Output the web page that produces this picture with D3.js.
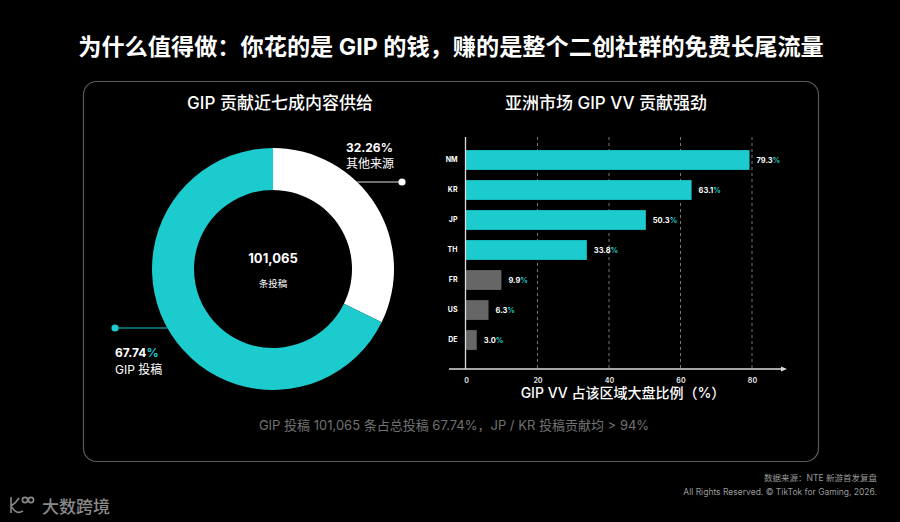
<!DOCTYPE html>
<html>
<head>
<meta charset="utf-8">
<script src="https://cdn.jsdelivr.net/npm/d3@7"></script>
<style>
  html, body { margin: 0; padding: 0; background: #000; }
  svg { display: block; font-family: "Inter", "Noto Sans CJK SC", sans-serif; }
</style>
</head>
<body>
<script>
// donut: GIP share of all posts
var shareLabels = ['其他来源', 'GIP 投稿'];
var shareValues = [32.26, 67.74];
var totalPosts = '101,065';

// bars: GIP VV share of each region
var regions = ['NM', 'KR', 'JP', 'TH', 'FR', 'US', 'DE'];
var vvShare = [79.3, 63.1, 50.3, 33.8, 9.9, 6.3, 3.0];
var asiaRegions = ['NM', 'KR', 'JP', 'TH'];
var xTicks = [0, 20, 40, 60, 80];

var W = 900, H = 522;
var teal = '#1ccbce';

var svg = d3.select('body').append('svg')
            .attr('width', W)
            .attr('height', H);

svg.append('text')
   .attr('x', 451).attr('y', 55)
   .attr('text-anchor', 'middle')
   .attr('fill', '#fff')
   .attr('font-size', 23.2)
   .attr('font-weight', 700)
   .text('为什么值得做：你花的是 GIP 的钱，赚的是整个二创社群的免费长尾流量');

// panel
svg.append('rect')
   .attr('x', 83.5).attr('y', 81.5)
   .attr('width', 735).attr('height', 380)
   .attr('rx', 13)
   .attr('fill', 'none')
   .attr('stroke', '#5a5a5a')
   .attr('stroke-width', 1.2);

svg.append('text')
   .attr('x', 280).attr('y', 109)
   .attr('text-anchor', 'middle')
   .attr('fill', '#fff')
   .attr('font-size', 17)
   .attr('font-weight', 500)
   .text('GIP 贡献近七成内容供给');

svg.append('text')
   .attr('x', 606).attr('y', 109)
   .attr('text-anchor', 'middle')
   .attr('fill', '#fff')
   .attr('font-size', 17)
   .attr('font-weight', 500)
   .text('亚洲市场 GIP VV 贡献强劲');

//---- donut
var cx = 273, cy = 269, R = 121, r = 79;
var pie = d3.pie().sort(null).value(function(d) { return d; });
var arc = d3.arc().innerRadius(r).outerRadius(R);
var donut = svg.append('g').attr('transform', 'translate(' + cx + ',' + cy + ')');

donut.selectAll('path')
     .data(pie(shareValues))
     .enter()
     .append('path')
     .attr('d', arc)
     .attr('fill', function(d, i) { return i === 0 ? '#fff' : teal; });

donut.append('text')
     .attr('y', -6).attr('text-anchor', 'middle')
     .attr('fill', '#fff').attr('font-size', 13).attr('font-weight', 700)
     .text(totalPosts);
donut.append('text')
     .attr('y', 18).attr('text-anchor', 'middle')
     .attr('fill', '#fff').attr('font-size', 9.5)
     .text('条投稿');

// leader lines from the ring edge to a dot
var edgeX = function(y, side) {
  var dy = y - cy;
  return cx + side * Math.sqrt(R * R - dy * dy);
};
var ly1 = 182, ly2 = 328;
svg.append('line')
   .attr('x1', edgeX(ly1, 1)).attr('y1', ly1)
   .attr('x2', 402).attr('y2', ly1)
   .attr('stroke', '#ddd').attr('stroke-width', 1.2);
svg.append('circle').attr('cx', 402).attr('cy', ly1).attr('r', 3.6).attr('fill', '#fff');

svg.append('line')
   .attr('x1', 115).attr('y1', ly2)
   .attr('x2', edgeX(ly2, -1)).attr('y2', ly2)
   .attr('stroke', teal).attr('stroke-width', 1.2);
svg.append('circle').attr('cx', 115).attr('cy', ly2).attr('r', 3.6).attr('fill', teal);

var lab1 = svg.append('text').attr('x', 346).attr('y', 152)
              .attr('fill', '#fff').attr('font-size', 12).attr('font-weight', 700);
lab1.text(shareValues[0].toFixed(2) + '%');
svg.append('text').attr('x', 346).attr('y', 168)
   .attr('fill', '#fff').attr('font-size', 12)
   .text(shareLabels[0]);

var lab2 = svg.append('text').attr('x', 115).attr('y', 357)
              .attr('fill', '#fff').attr('font-size', 12).attr('font-weight', 700);
lab2.append('tspan').text(shareValues[1].toFixed(2));
lab2.append('tspan').attr('fill', teal).text('%');
svg.append('text').attr('x', 115).attr('y', 374)
   .attr('fill', '#fff').attr('font-size', 12)
   .text(shareLabels[1]);

//---- bar chart
var x = d3.scaleLinear().domain([0, 80]).range([466, 752]);
var y = d3.scaleBand().domain(regions).range([145, 355]).paddingInner(0.34).paddingOuter(0.17);
var plotTop = 137, plotBottom = 369;

var chart = svg.append('g');

chart.selectAll('line.grid')
     .data(xTicks.slice(1))
     .enter()
     .append('line')
     .attr('class', 'grid')
     .attr('x1', function(d) { return x(d); })
     .attr('x2', function(d) { return x(d); })
     .attr('y1', plotTop).attr('y2', plotBottom)
     .attr('stroke', '#777')
     .attr('stroke-width', 1)
     .attr('stroke-dasharray', '3,3');

chart.selectAll('rect.bar')
     .data(regions)
     .enter()
     .append('rect')
     .attr('class', 'bar')
     .attr('x', x(0))
     .attr('y', function(d) { return y(d); })
     .attr('width', function(d, i) { return x(vvShare[i]) - x(0); })
     .attr('height', y.bandwidth())
     .attr('fill', function(d) { return asiaRegions.indexOf(d) >= 0 ? teal : '#666'; });

var vals = chart.selectAll('text.val')
     .data(regions)
     .enter()
     .append('text')
     .attr('class', 'val')
     .attr('x', function(d, i) { return x(vvShare[i]) + 7; })
     .attr('y', function(d) { return y(d) + y.bandwidth() / 2 + 2.6; })
     .attr('fill', '#fff')
     .attr('font-size', 7.5)
     .attr('font-weight', 700);
vals.append('tspan').text(function(d, i) { return vvShare[i].toFixed(1); });
vals.append('tspan').attr('fill', teal).text('%');

// y axis
var yAxis = chart.append('g')
     .attr('transform', 'translate(' + (x(0) - 0.5) + ',0)')
     .call(d3.axisLeft(y).tickSize(0).tickPadding(8));
yAxis.select('.domain').remove();
yAxis.selectAll('text')
     .attr('fill', '#fff')
     .attr('font-size', 7)
     .attr('font-weight', 700)
     .attr('font-family', '"Inter", sans-serif');
chart.append('line')
     .attr('x1', x(0) - 0.5).attr('x2', x(0) - 0.5)
     .attr('y1', plotTop).attr('y2', plotBottom)
     .attr('stroke', '#ddd').attr('stroke-width', 1.3);

// x axis with arrow
chart.append('line')
     .attr('x1', 449).attr('x2', 784)
     .attr('y1', plotBottom).attr('y2', plotBottom)
     .attr('stroke', '#ddd').attr('stroke-width', 1.3);
chart.append('path')
     .attr('d', 'M787,' + plotBottom + 'L781,' + (plotBottom - 2.6) + 'L781,' + (plotBottom + 2.6) + 'Z')
     .attr('fill', '#ddd');

var xAxis = chart.append('g')
     .attr('transform', 'translate(0,' + plotBottom + ')')
     .call(d3.axisBottom(x).tickValues(xTicks).tickSize(0).tickPadding(9));
xAxis.select('.domain').remove();
xAxis.selectAll('text')
     .attr('fill', '#ddd')
     .attr('font-size', 7)
     .attr('font-weight', 700)
     .attr('font-family', '"Inter", sans-serif');

svg.append('text')
   .attr('x', 623).attr('y', 398)
   .attr('text-anchor', 'middle')
   .attr('fill', '#fff')
   .attr('font-size', 14)
   .attr('font-weight', 500)
   .text('GIP VV 占该区域大盘比例（%）');

// footnote
svg.append('text')
   .attr('x', 454).attr('y', 430)
   .attr('text-anchor', 'middle')
   .attr('fill', '#727272')
   .attr('font-size', 13)
   .text('GIP 投稿 101,065 条占总投稿 67.74%，JP / KR 投稿贡献均 > 94%');

// source
svg.append('text')
   .attr('x', 877).attr('y', 481)
   .attr('text-anchor', 'end')
   .attr('fill', '#9a9a9a').attr('font-size', 8.5)
   .text('数据来源：NTE 新游首发复盘');
svg.append('text')
   .attr('x', 877).attr('y', 495)
   .attr('text-anchor', 'end')
   .attr('fill', '#9a9a9a').attr('font-size', 8.5)
   .text('All Rights Reserved. © TikTok for Gaming, 2026.');

// logo
var logo = svg.append('g').attr('fill', 'none').attr('stroke', '#888').attr('stroke-width', 1.6);
logo.append('path').attr('d', 'M11,497 L11,513 M11,506 Q16,503 19,498 M12,507 Q16,515 23,511');
logo.append('circle').attr('cx', 25).attr('cy', 500).attr('r', 2.6);
logo.append('circle').attr('cx', 31).attr('cy', 500).attr('r', 2.6);
svg.append('text')
   .attr('x', 42).attr('y', 513)
   .attr('fill', '#8a8a8a')
   .attr('font-size', 17)
   .attr('font-weight', 500)
   .text('大数跨境');
</script>
</body>
</html>
